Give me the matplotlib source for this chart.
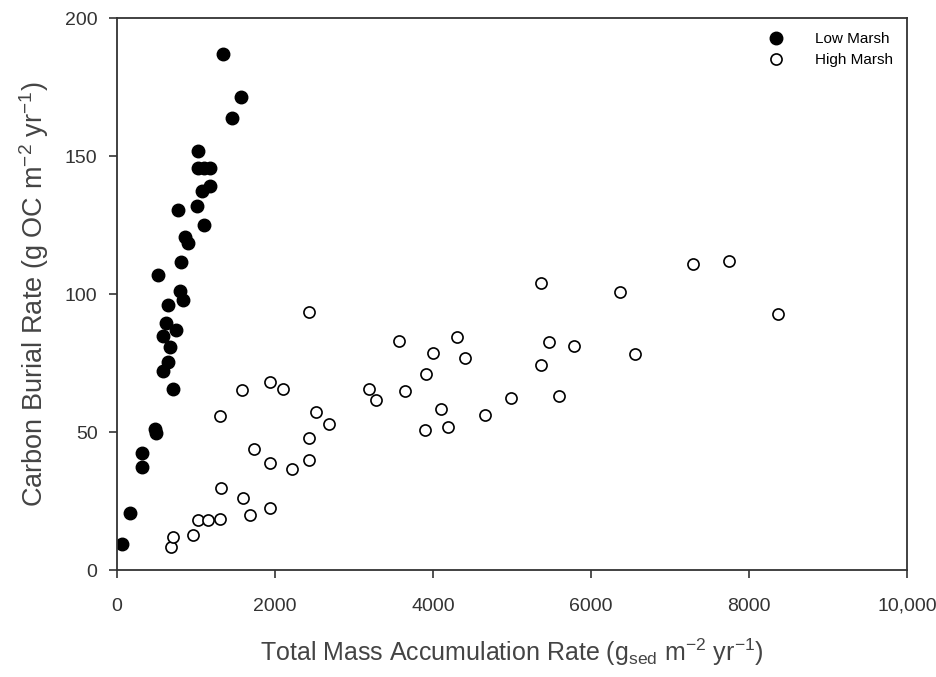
import numpy as np
import matplotlib.pyplot as plt

# Low marsh (filled)
low_x = [65, 165, 314, 314, 481, 490, 523, 586, 586, 619, 641, 650, 671, 713, 747,
         776, 797, 806, 831, 861, 903, 1017, 1030, 1030, 1100, 1177, 1072, 1177,
         1101, 1346, 1451, 1570]
low_y = [9.4, 20.6, 42.3, 37.2, 51.2, 49.8, 106.9, 72.2, 84.8, 89.7, 95.9, 75.5,
         80.9, 65.8, 87.0, 130.4, 101.2, 111.5, 98.0, 120.8, 118.4, 131.9, 151.8,
         145.8, 145.8, 145.8, 137.3, 139.2, 125.0, 187.2, 164.0, 171.3]

# High marsh (open)
high_x = [679, 713, 967, 1021, 1155, 1304, 1317, 1304, 1586, 1591, 1680, 1730, 1937,
          1937, 1932, 2100, 2212, 2432, 2435, 2435, 2519, 2684, 3194, 3278, 3574,
          3650, 3899, 3911, 3996, 4101, 4184, 4300, 4405, 4658, 4983, 5362, 5362,
          5472, 5599, 5789, 6362, 6557, 7295, 7747, 8371]
high_y = [8.5, 12.0, 12.7, 18.1, 18.1, 18.6, 29.8, 55.9, 65.2, 26.1, 19.9, 44.0, 68.0,
          38.9, 22.5, 65.5, 36.7, 93.4, 47.9, 39.9, 57.4, 52.9, 65.5, 61.8, 83.0,
          64.9, 50.7, 70.9, 78.5, 58.3, 51.8, 84.5, 76.9, 56.2, 62.2, 103.9, 74.5,
          82.7, 63.2, 81.2, 100.8, 78.4, 111.1, 112.0, 92.8]

xticks = [0, 2000, 4000, 6000, 8000, 10000]
xticklabels = ['0', '2000', '4000', '6000', '8000', '10,000']
yticks = [0, 50, 100, 150, 200]

plt.rcParams['font.family'] = ['Liberation Sans', 'DejaVu Sans']
plt.rcParams['mathtext.fontset'] = 'custom'
plt.rcParams['mathtext.rm'] = 'Liberation Sans'
plt.rcParams['mathtext.it'] = 'Liberation Sans'
plt.rcParams['mathtext.default'] = 'regular'

fig = plt.figure(figsize=(9.36, 6.77), dpi=100)
ax = fig.add_axes([0.125, 0.158, 0.844, 0.815])

ax.plot(low_x, low_y, 'o', color='black', markersize=9, label='Low Marsh')
ax.plot(high_x, high_y, 'o', markerfacecolor='white', markeredgecolor='black',
        markeredgewidth=1.2, markersize=8, label='High Marsh')

ax.set_xlim(0, 10000)
ax.set_ylim(0, 200)
ax.set_xticks(xticks)
ax.set_xticklabels(xticklabels)
ax.set_yticks(yticks)
ax.tick_params(direction='out', length=6, width=1.2, labelsize=14, colors='#333333',
               pad=8)
ax.tick_params(axis='x', pad=14)
for s in ax.spines.values():
    s.set_linewidth(1.3)
    s.set_color('#333333')

ax.set_xlabel('Total Mass Accumulation Rate (g$_{sed}$ m$^{-2}$ yr$^{-1}$)',
              fontsize=18, color='#444444', labelpad=16)
ax.set_ylabel('Carbon Burial Rate (g OC m$^{-2}$ yr$^{-1}$)',
              fontsize=19.5, color='#444444', labelpad=10)

leg = ax.legend(loc='upper right', frameon=False, fontsize=11, handletextpad=1.6,
                borderaxespad=0.5, labelspacing=0.45)

plt.savefig('out.png', dpi=100)
